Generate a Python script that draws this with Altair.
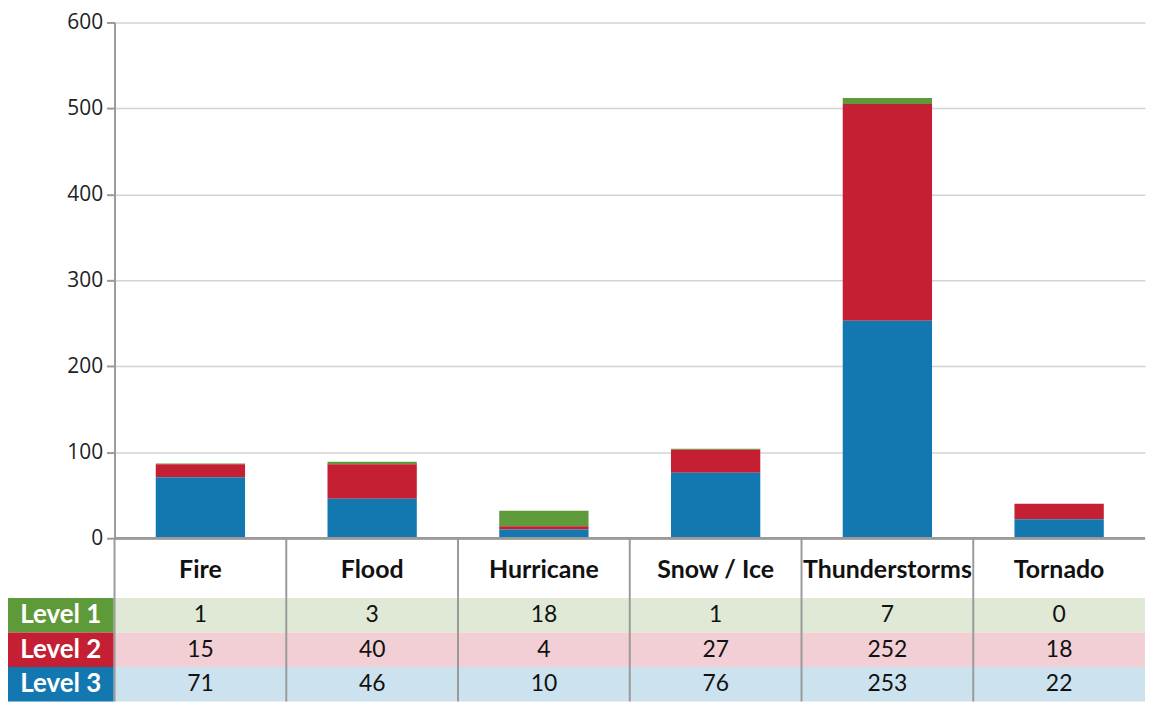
import altair as alt
import pandas as pd

categories = ["Fire", "Flood", "Hurricane", "Snow / Ice", "Thunderstorms", "Tornado"]
levels = ["Level 1", "Level 2", "Level 3"]
level1 = [1, 3, 18, 1, 7, 0]
level2 = [15, 40, 4, 27, 252, 18]
level3 = [71, 46, 10, 76, 253, 22]
y_ticks = [0, 100, 200, 300, 400, 500, 600]

dark = ["#5f9a3a", "#c41f33", "#1378b0"]
light = ["#dfe9d6", "#f2cfd5", "#cce3ef"]
sep = "#9a9a9a"

rows = []
for lvl, vals in zip(levels, [level1, level2, level3]):
    for c, v in zip(categories, vals):
        rows.append({"cat": c, "level": lvl, "value": v})
df = pd.DataFrame(rows)
cat_df = pd.DataFrame({"cat": categories})
lvl_df = pd.DataFrame({"level": levels})

W = 1035
FONT = "Lato"

bars = alt.Chart(df).mark_bar().encode(
    x=alt.X("cat:N", sort=categories,
            scale=alt.Scale(domain=categories, paddingInner=0.48, paddingOuter=0.24),
            axis=None),
    y=alt.Y("value:Q", stack="zero",
            scale=alt.Scale(domain=[0, 600]),
            axis=alt.Axis(title=None, values=y_ticks, labelFontSize=21, labelColor="#222",
                          labelFont="Open Sans", tickColor=sep, tickSize=8, tickWidth=2,
                          domainColor=sep, domainWidth=2, gridColor="#d4d4d4",
                          gridWidth=1.5, labelPadding=4)),
    color=alt.Color("level:N", scale=alt.Scale(domain=levels, range=dark), legend=None),
    order=alt.Order("level:N", sort="descending"),
)
zero_line = alt.Chart(cat_df).mark_rule(color=sep, strokeWidth=2).encode(
    y=alt.datum(0), x=alt.value(0), x2=alt.value(W)
)
top = alt.layer(bars, zero_line).properties(width=W, height=518)

xs = alt.Scale(domain=categories, paddingInner=0, paddingOuter=0)

header_text = alt.Chart(cat_df).mark_text(
    font=FONT, fontSize=25, fontWeight="bold", color="#111"
).encode(
    x=alt.X("cat:N", sort=categories, scale=xs, axis=None),
    y=alt.value(32),
    text="cat:N",
)
header_sep = alt.Chart(cat_df).mark_rule(color=sep, strokeWidth=2).encode(
    x=alt.X("cat:N", sort=categories, scale=xs, axis=None, bandPosition=0),
    y=alt.value(0), y2=alt.value(60),
)
header = alt.layer(header_text, header_sep).properties(width=W, height=60)

ys = alt.Scale(domain=levels, paddingInner=0, paddingOuter=0)

cells = alt.Chart(df).mark_rect().encode(
    x=alt.X("cat:N", sort=categories, scale=xs, axis=None),
    y=alt.Y("level:N", scale=ys, axis=None),
    color=alt.Color("level:N", scale=alt.Scale(domain=levels, range=light), legend=None),
)
cell_text = alt.Chart(df).mark_text(font=FONT, fontSize=23, color="#111").encode(
    x=alt.X("cat:N", sort=categories, scale=xs, axis=None),
    y=alt.Y("level:N", scale=ys, axis=None),
    text="value:Q",
)
row_sep = alt.Chart(cat_df).mark_rule(color=sep, strokeWidth=2).encode(
    x=alt.X("cat:N", sort=categories, scale=xs, axis=None, bandPosition=0),
    y=alt.value(0), y2=alt.value(104),
)
label_box = alt.Chart(lvl_df).mark_rect().encode(
    x=alt.value(-107), x2=alt.value(-1),
    y=alt.Y("level:N", scale=ys, axis=None),
    color=alt.Color("level:N", scale=alt.Scale(domain=levels, range=dark), legend=None),
)
label_text = alt.Chart(lvl_df).mark_text(
    font=FONT, fontSize=26, fontWeight="bold", color="white"
).encode(
    x=alt.value(-54),
    y=alt.Y("level:N", scale=ys, axis=None),
    text="level:N",
)
table = alt.layer(cells, cell_text, row_sep, label_box, label_text).resolve_scale(
    color="independent"
).properties(width=W, height=104)

chart = alt.vconcat(top, header, table, spacing=0, bounds="flush").properties(
    padding={"left": 0, "right": 0, "top": 2, "bottom": 0}
).configure_view(stroke=None).configure_concat(spacing=0)

chart.save("out.html", embed_options={"renderer": "svg", "actions": False})
